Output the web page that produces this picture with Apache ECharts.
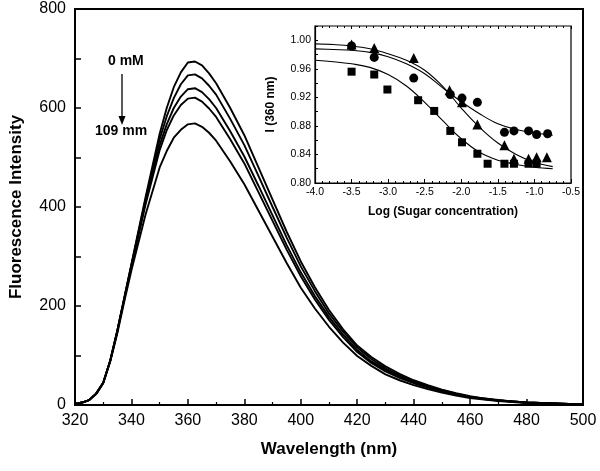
<!DOCTYPE html>
<html><head><meta charset="utf-8">
<script src="https://cdn.jsdelivr.net/npm/echarts@6/dist/echarts.min.js"></script>
<style>html,body{margin:0;padding:0;background:#fff}#c{width:600px;height:471px}</style>
</head><body><div id="c"></div>
<script>
// ---- Main spectra data ----
const wavelengths = [320,322.5,325,327.5,330,332.5,335,337.5,340,345,350,352.5,355,357.5,360,362.5,365,367.5,370,375,380,385,390,395,400,405,410,415,420,425,430,435,440,445,450,455,460,465,470,475,480,485,490,495,500];
const spec0mM  = [2,5,10,23,45,90,150,218,285, 420,548,600,642,672,692,694,686,670,650, 600,545,480,415,350,290,238,192,153,120,97,78,63,50,40,31,24,18,13,10,7,5,4,3,2,1];
const specB    = [2,5,10,23,45,90,150,217,283, 415,537,583,620,648,666,668,660,645,627, 578,525,463,400,338,280,230,185,148,116,93,74,60,48,38,30,23,17,13,9,7,5,4,3,2,1];
const specC    = [2,5,10,23,45,90,150,216,282, 410,525,567,600,623,638,640,632,618,600, 553,502,443,383,323,268,220,178,142,111,88,71,58,46,37,29,22,16,12,9,7,5,4,3,2,1];
const specD    = [2,5,10,23,45,90,149,215,280, 405,515,555,585,606,619,621,613,599,582, 537,488,430,372,314,260,213,172,137,107,85,68,55,44,35,27,21,16,12,9,7,5,4,3,2,1];
const spec109mM= [2,5,10,22,44,88,145,210,272, 385,480,513,540,556,567,569,562,550,534, 492,446,393,340,287,237,195,158,126,99,79,62,50,40,32,25,19,14,11,8,6,4,3,2,2,1];

// ---- Inset data ----
const triX = [-3.5,-3.19,-2.65,-2.16,-1.99,-1.78,-1.41,-1.28,-1.08,-0.97,-0.83];
const triY = [0.994,0.989,0.975,0.930,0.913,0.882,0.853,0.834,0.834,0.836,0.836];
const cirX = [-3.5,-3.19,-2.65,-2.15,-1.99,-1.78,-1.41,-1.28,-1.08,-0.97,-0.82];
const cirY = [0.992,0.976,0.947,0.924,0.919,0.913,0.871,0.873,0.873,0.868,0.869];
const sqX  = [-3.5,-3.19,-3.01,-2.59,-2.37,-2.15,-1.99,-1.78,-1.64,-1.41,-1.28,-1.08,-0.97];
const sqY  = [0.956,0.952,0.931,0.916,0.901,0.873,0.857,0.841,0.827,0.827,0.827,0.827,0.827];
const fitX   = [-4.0,-3.75,-3.5,-3.25,-3.0,-2.75,-2.5,-2.25,-2.0,-1.75,-1.5,-1.25,-1.0,-0.75];
const fitTri = [0.995,0.994,0.992,0.988,0.981,0.972,0.958,0.935,0.905,0.878,0.856,0.840,0.829,0.823];
const fitCir = [0.988,0.987,0.986,0.983,0.977,0.967,0.953,0.933,0.914,0.897,0.883,0.875,0.870,0.867];
const fitSq  = [0.972,0.970,0.967,0.962,0.952,0.936,0.913,0.887,0.862,0.843,0.832,0.826,0.822,0.820];

const zip = (a,b)=>a.map((v,i)=>[v,b[i]]);
const FONT = 'Liberation Sans';
const chart = echarts.init(document.getElementById('c'));

const mainLine = (d)=>({type:'line', xAxisIndex:0, yAxisIndex:0, data:zip(wavelengths,d), showSymbol:false, smooth:false, lineStyle:{color:'#000', width:1.9}, silent:true, animation:false});
const fitLine = (d)=>({type:'line', xAxisIndex:1, yAxisIndex:1, data:zip(fitX,d), showSymbol:false, smooth:0.4, lineStyle:{color:'#000', width:1.1}, silent:true, animation:false});
const pts = (x,y,sym,size)=>({type:'scatter', xAxisIndex:1, yAxisIndex:1, data:zip(x,y), symbol:sym, symbolSize:size, itemStyle:{color:'#000', opacity:1}, animation:false, z:5});

chart.setOption({
  backgroundColor:'#fff',
  animation:false,
  textStyle:{fontFamily:FONT},
  grid:[
    {left:75, top:9, width:508, height:396, show:true, borderColor:'#000', borderWidth:2, backgroundColor:'transparent'},
    {left:315, top:26, width:256, height:157, show:true, borderColor:'#000', borderWidth:1.2, backgroundColor:'#fff'}
  ],
  xAxis:[
    {gridIndex:0, type:'value', min:320, max:500, interval:20,
     name:'Wavelength (nm)', nameLocation:'middle', nameGap:36,
     nameTextStyle:{fontFamily:FONT, fontWeight:'bold', fontSize:17, color:'#000'},
     axisLine:{lineStyle:{color:'#000', width:2}},
     axisTick:{inside:true, length:6, lineStyle:{color:'#000', width:1.5}},
     minorTick:{show:true, splitNumber:2, length:3, lineStyle:{color:'#000', width:1.2}},
     axisLabel:{fontFamily:FONT, fontSize:16, color:'#000', margin:8},
     splitLine:{show:false}},
    {gridIndex:1, type:'value', min:-4.0, max:-0.5, interval:0.5,
     name:'Log (Sugar concentration)', nameLocation:'middle', nameGap:23,
     nameTextStyle:{fontFamily:FONT, fontWeight:'bold', fontSize:12, color:'#000'},
     axisLine:{lineStyle:{color:'#000', width:1.2}},
     axisTick:{inside:true, length:4, lineStyle:{color:'#000'}},
     minorTick:{show:true, splitNumber:5, length:2, lineStyle:{color:'#000'}},
     axisLabel:{fontFamily:FONT, fontSize:10.5, color:'#000', margin:4, formatter:v=>v.toFixed(1)},
     splitLine:{show:false}},
    {gridIndex:1, type:'value', min:-4.0, max:-0.5, interval:0.5, position:'top',
     axisLine:{show:false}, axisTick:{inside:true, length:3, lineStyle:{color:'#000'}},
     minorTick:{show:true, splitNumber:5, length:2, lineStyle:{color:'#000'}},
     axisLabel:{show:false}, splitLine:{show:false}}
  ],
  yAxis:[
    {gridIndex:0, type:'value', min:0, max:800, interval:200,
     name:'Fluorescence Intensity', nameLocation:'middle', nameGap:50,
     nameTextStyle:{fontFamily:FONT, fontWeight:'bold', fontSize:17, color:'#000'},
     axisLine:{lineStyle:{color:'#000', width:2}},
     axisTick:{inside:true, length:6, lineStyle:{color:'#000', width:1.5}},
     minorTick:{show:true, splitNumber:2, length:6, lineStyle:{color:'#000', width:1.5}},
     axisLabel:{fontFamily:FONT, fontSize:16, color:'#000', margin:9},
     splitLine:{show:false}},
    {gridIndex:1, type:'value', min:0.80, max:1.02, interval:0.02,
     name:'I (360 nm)', nameLocation:'middle', nameGap:38,
     nameTextStyle:{fontFamily:FONT, fontWeight:'bold', fontSize:12, color:'#000'},
     axisLine:{lineStyle:{color:'#000', width:1.2}},
     axisTick:{inside:true, length:3, lineStyle:{color:'#000'}},
     minorTick:{show:false},
     axisLabel:{fontFamily:FONT, fontSize:10.5, color:'#000', margin:4,
       formatter:v=>{const k=Math.round(v*100); return (k%4===0)? (k/100).toFixed(2) : '';}},
     splitLine:{show:false}}
  ],
  series:[
    mainLine(spec0mM), mainLine(specB), mainLine(specC), mainLine(specD), mainLine(spec109mM),
    fitLine(fitTri), fitLine(fitCir), fitLine(fitSq),
    pts(triX, triY, 'triangle', 10),
    pts(cirX, cirY, 'circle', 9),
    pts(sqX, sqY, 'rect', 8)
  ],
  graphic:[
    {type:'text', left:108, top:54, style:{text:'0 mM', font:'bold 14px "Liberation Sans"', fill:'#000'}},
    {type:'line', shape:{x1:122, y1:74, x2:122, y2:118}, style:{stroke:'#000', lineWidth:1.3}},
    {type:'polygon', shape:{points:[[118.5,116],[125.5,116],[122,125]]}, style:{fill:'#000'}},
    {type:'text', left:95, top:124, style:{text:'109 mm', font:'bold 14px "Liberation Sans"', fill:'#000'}}
  ]
});
</script></body></html>
